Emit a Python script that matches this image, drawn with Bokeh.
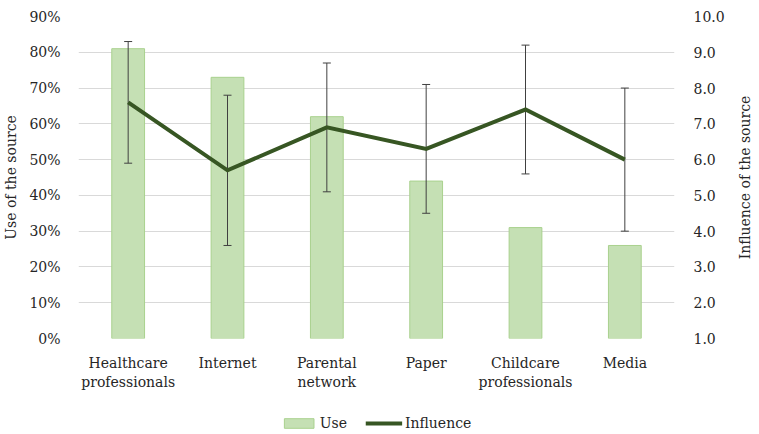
from bokeh.plotting import figure
from bokeh.layouts import row, column
from bokeh.models import (Range1d, LinearAxis, NumeralTickFormatter, FixedTicker,
                          Legend, LegendItem, FactorRange, ColumnDataSource)
from bokeh.embed import file_html
from bokeh.resources import INLINE

categories = ["Healthcare\nprofessionals", "Internet", "Parental\nnetwork",
              "Paper", "Childcare\nprofessionals", "Media"]
use_share = [0.81, 0.73, 0.62, 0.44, 0.31, 0.26]
influence = [7.6, 5.7, 6.9, 6.3, 7.4, 6.0]
influence_err = [1.7, 2.1, 1.8, 1.8, 1.8, 2.0]
use_ticks = [i / 10 for i in range(10)]
influence_ticks = [float(i) for i in range(1, 11)]

FONT = "DejaVu Serif"
TXT = "#262626"
BAR_FILL = "#c5e0b4"
BAR_LINE = "#a9d18e"
LINE_COL = "#375623"

src = ColumnDataSource(dict(
    cat=categories,
    use=use_share,
    infl=influence,
    upper=[m + e for m, e in zip(influence, influence_err)],
    lower=[m - e for m, e in zip(influence, influence_err)],
))

p = figure(x_range=FactorRange(*categories), y_range=Range1d(0, 0.9),
           width=733, height=404, output_backend="svg",
           toolbar_location=None,
           min_border_left=78, min_border_right=59, min_border_top=16,
           min_border_bottom=66)
p.extra_y_ranges = {"infl": Range1d(1, 10)}
p.outline_line_color = None
p.xgrid.grid_line_color = None
p.ygrid.grid_line_color = "#d9d9d9"
p.ygrid.grid_line_width = 1

bars = p.vbar(x="cat", top="use", width=0.33, source=src,
              fill_color=BAR_FILL, line_color=BAR_LINE, line_width=1)
p.segment(x0="cat", y0="lower", x1="cat", y1="upper", source=src,
          y_range_name="infl", line_color="#404040", line_width=1)
p.scatter(x="cat", y="upper", marker="dash", size=8, source=src,
          y_range_name="infl", line_color="#404040", line_width=1)
p.scatter(x="cat", y="lower", marker="dash", size=8, source=src,
          y_range_name="infl", line_color="#404040", line_width=1)
line = p.line(x="cat", y="infl", source=src, y_range_name="infl",
              line_color=LINE_COL, line_width=4, line_join="miter")

ax_l = p.yaxis[0]
ax_l.ticker = FixedTicker(ticks=use_ticks)
ax_l.formatter = NumeralTickFormatter(format="0%")
ax_l.axis_label = "Use of the source"

ax_r = LinearAxis(y_range_name="infl", ticker=FixedTicker(ticks=influence_ticks),
                  formatter=NumeralTickFormatter(format="0.0"))
p.add_layout(ax_r, "right")


def style_axis(ax):
    ax.axis_line_color = None
    ax.major_tick_line_color = None
    ax.minor_tick_line_color = None
    ax.major_tick_out = 0
    ax.major_tick_in = 0
    ax.minor_tick_out = 0
    ax.minor_tick_in = 0
    ax.major_label_text_font = FONT
    ax.major_label_text_font_size = "14px"
    ax.major_label_text_color = TXT
    ax.axis_label_text_font = FONT
    ax.axis_label_text_font_size = "14px"
    ax.axis_label_text_font_style = "normal"
    ax.axis_label_text_color = TXT


for ax in [ax_l, ax_r, p.xaxis[0]]:
    style_axis(ax)

ax_l.major_label_standoff = 18
ax_l.axis_label_standoff = 7
ax_r.major_label_standoff = 19
p.xaxis[0].major_label_standoff = 16

# narrow strip carrying the right-hand axis title, reading upwards
strip = figure(frame_width=1, frame_height=322, output_backend="svg",
               toolbar_location=None, x_range=Range1d(0, 1),
               y_range=Range1d(1, 10), x_axis_location=None,
               y_axis_location="left", min_border_left=0, min_border_right=0,
               min_border_top=16, min_border_bottom=66)
strip.outline_line_color = None
strip.grid.grid_line_color = None
ax_t = strip.yaxis[0]
style_axis(ax_t)
ax_t.ticker = FixedTicker(ticks=[])
ax_t.major_label_standoff = 0
ax_t.axis_label_standoff = 0
ax_t.axis_label = "Influence of the source"

# legend strip below; its renderers use the same data but lie outside its view
lg = figure(width=751, height=38, output_backend="svg", toolbar_location=None,
            x_range=FactorRange(*categories), y_range=Range1d(100, 101),
            x_axis_location=None, y_axis_location=None, min_border=0)
lg.outline_line_color = None
lg.grid.grid_line_color = None
lg_bar = lg.vbar(x="cat", top="use", width=0.33, source=src,
                 fill_color=BAR_FILL, line_color=BAR_LINE, line_width=1)
lg_line = lg.line(x="cat", y="infl", source=src,
                  line_color=LINE_COL, line_width=4)
legend = Legend(items=[LegendItem(label="Use", renderers=[lg_bar]),
                       LegendItem(label="Influence", renderers=[lg_line])],
                orientation="horizontal", location="center",
                border_line_color=None, background_fill_alpha=0,
                glyph_width=37, glyph_height=12, label_standoff=3, spacing=18,
                label_text_font=FONT, label_text_font_size="14px",
                label_text_color=TXT, padding=2, margin=0)
lg.add_layout(legend)

layout = column(row(p, strip, spacing=0), lg, spacing=0)
open("out.html", "w").write(file_html(layout, INLINE))
